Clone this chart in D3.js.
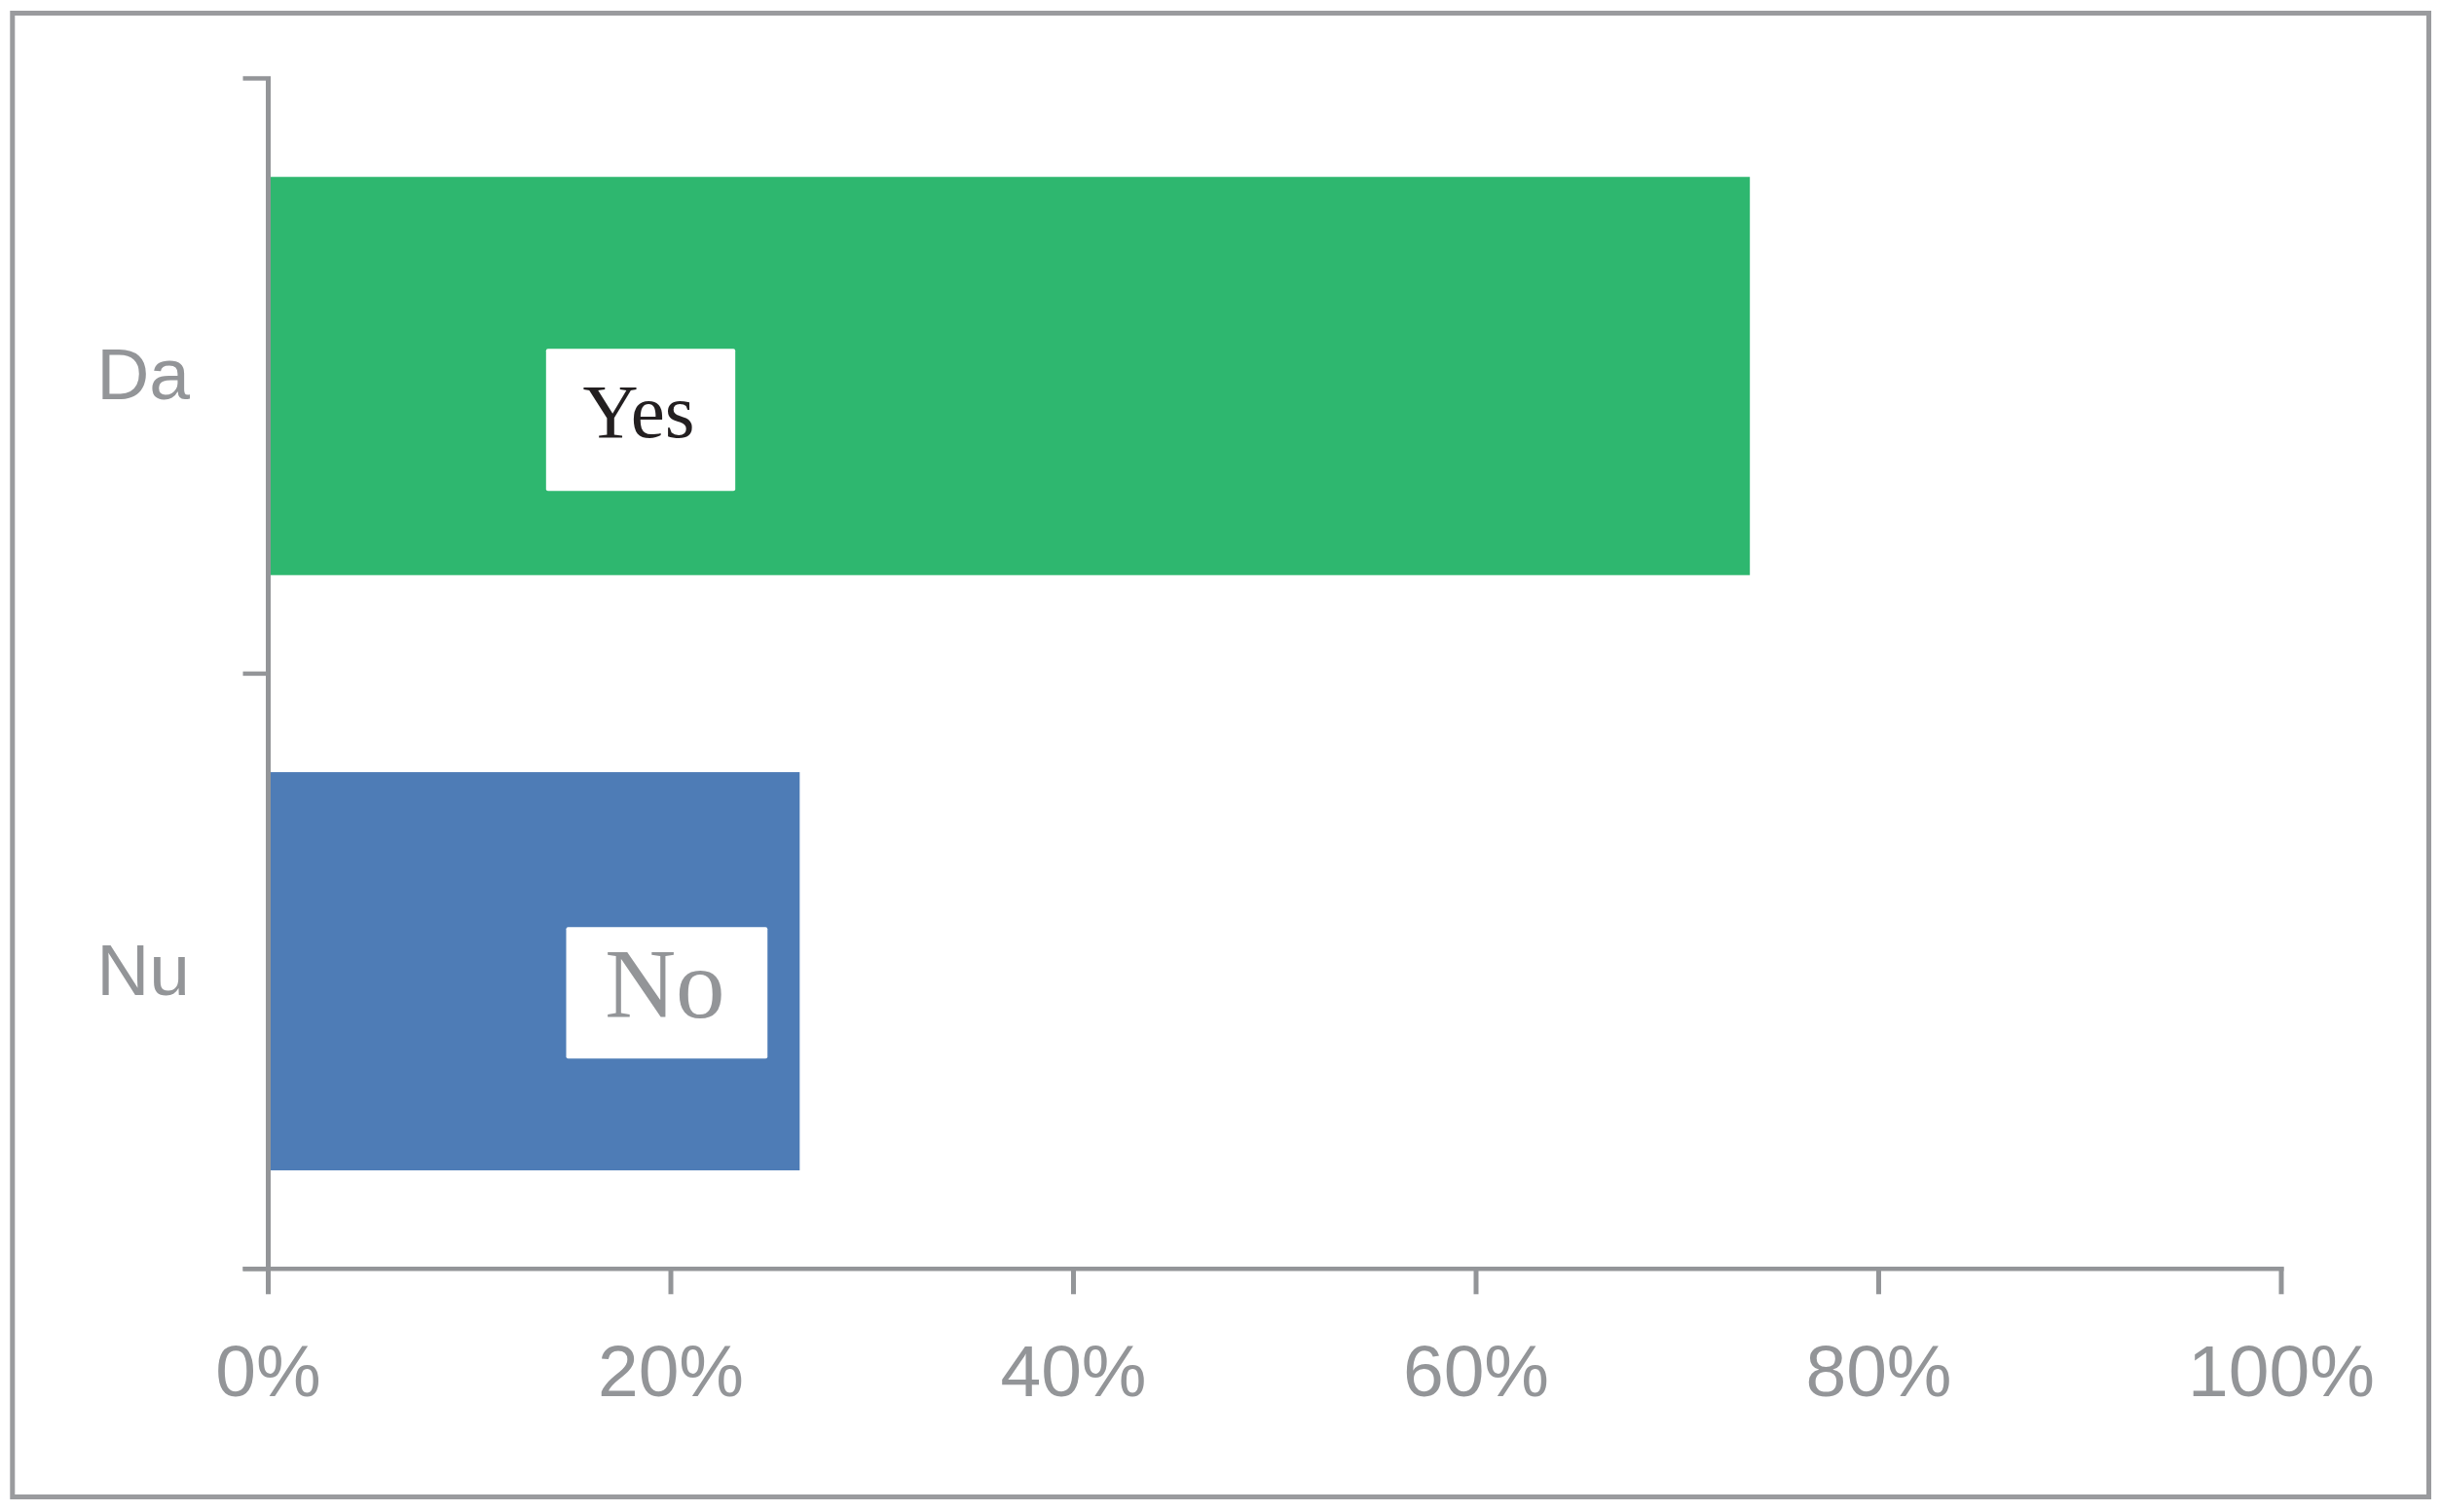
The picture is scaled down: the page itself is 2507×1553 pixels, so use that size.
<!DOCTYPE html>
<html>
<head>
<meta charset="utf-8">
<script src="https://cdn.jsdelivr.net/npm/d3@7"></script>
<style>
  html, body { margin: 0; padding: 0; background: #ffffff; }
  svg { display: block; }
</style>
</head>
<body>
<svg id="chart" width="2507" height="1553"></svg>
<script>
// ---- data ----
const categories = ["Da", "Nu"];
const values = [0.736, 0.264];
const barColors = ["#2eb76f", "#4e7cb6"];
const annotations = ["Yes", "No"];
const xTicks = [0, 0.2, 0.4, 0.6, 0.8, 1.0];
const xTickLabels = ["0%", "20%", "40%", "60%", "80%", "100%"];

// ---- layout ----
const W = 2507, H = 1553;
const axisColor = "#939598";
const frameColor = "#9a9b9e";
const plot = { left: 275.5, right: 2343, top: 80.5, bottom: 1303.3 };
const tickLen = 26;

const svg = d3.select("#chart");

// outer frame
svg.append("rect")
  .attr("x", 12.8).attr("y", 13.5)
  .attr("width", 2494.5 - 12.8).attr("height", 1537.5 - 13.5)
  .attr("fill", "#ffffff")
  .attr("stroke", frameColor).attr("stroke-width", 5);

const x = d3.scaleLinear().domain([0, 1]).range([plot.left, plot.right]);
const y = d3.scaleBand().domain(categories).range([plot.top, plot.bottom])
  .paddingInner(0.331).paddingOuter(0.1655);
const yBand = d3.scaleBand().domain(categories).range([plot.top, plot.bottom]).padding(0);

// bars
svg.append("g").selectAll("rect")
  .data(categories)
  .join("rect")
  .attr("x", x(0))
  .attr("y", d => y(d))
  .attr("width", (d, i) => x(values[i]) - x(0))
  .attr("height", y.bandwidth())
  .attr("fill", (d, i) => barColors[i]);

// annotation boxes (white labels inside bars)
const boxSpec = [
  { x0: 0.138, x1: 0.232, top: 277.8, h: 146, size: 79, color: "#231f20", baseline: 91 },
  { x0: 0.148, x1: 0.248, top: 260.4, h: 135, size: 101, color: "#939598", baseline: 93 }
];
const ann = svg.append("g");
annotations.forEach((t, i) => {
  const s = boxSpec[i];
  const bx = x(s.x0), bw = x(s.x1) - x(s.x0);
  const by = yBand(categories[i]) + s.top;
  ann.append("rect")
    .attr("x", bx).attr("y", by).attr("width", bw).attr("height", s.h)
    .attr("rx", 2).attr("fill", "#ffffff");
  ann.append("text")
    .attr("x", bx + bw / 2 - 2).attr("y", by + s.baseline)
    .attr("text-anchor", "middle")
    .attr("font-family", "'Liberation Serif', 'Times New Roman', serif")
    .attr("font-size", s.size)
    .attr("fill", s.color)
    .text(t);
});

// y axis
const yAxisG = svg.append("g");
yAxisG.append("line")
  .attr("x1", plot.left).attr("x2", plot.left)
  .attr("y1", plot.top).attr("y2", plot.bottom)
  .attr("stroke", axisColor).attr("stroke-width", 5);
const yTickPos = [plot.top].concat(categories.map(c => yBand(c) + yBand.bandwidth()));
yAxisG.selectAll("line.tick")
  .data(yTickPos)
  .join("line").attr("class", "tick")
  .attr("x1", plot.left - tickLen).attr("x2", plot.left + 2.5)
  .attr("y1", d => d).attr("y2", d => d)
  .attr("stroke", axisColor).attr("stroke-width", 4.5);
yAxisG.selectAll("text")
  .data(categories)
  .join("text")
  .attr("x", 195)
  .attr("y", d => yBand(d) + yBand.bandwidth() / 2 + 24)
  .attr("text-anchor", "end")
  .attr("font-family", "'Liberation Sans', Arial, sans-serif")
  .attr("font-size", 75)
  .attr("fill", axisColor)
  .text(d => d);

// x axis
const xAxisG = svg.append("g");
xAxisG.append("line")
  .attr("x1", plot.left - tickLen).attr("x2", plot.right + 2.5)
  .attr("y1", plot.bottom).attr("y2", plot.bottom)
  .attr("stroke", axisColor).attr("stroke-width", 4.5);
xAxisG.selectAll("line.tick")
  .data(xTicks)
  .join("line").attr("class", "tick")
  .attr("x1", d => x(d)).attr("x2", d => x(d))
  .attr("y1", plot.bottom - 2).attr("y2", plot.bottom + tickLen)
  .attr("stroke", axisColor).attr("stroke-width", 5);
xAxisG.selectAll("text")
  .data(xTicks)
  .join("text")
  .attr("x", d => x(d))
  .attr("y", 1434)
  .attr("text-anchor", "middle")
  .attr("font-family", "'Liberation Sans', Arial, sans-serif")
  .attr("font-size", 75)
  .attr("fill", axisColor)
  .text((d, i) => xTickLabels[i]);
</script>
</body>
</html>
